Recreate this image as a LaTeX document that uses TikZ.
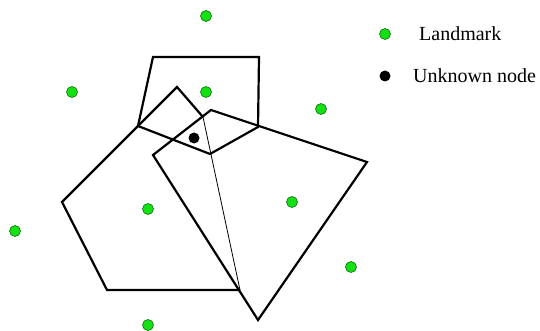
\documentclass[tikz,border=0pt]{standalone}
\usepackage{fontspec}
\setmainfont{Liberation Serif}
\definecolor{lmgreen}{RGB}{20,225,20}
\definecolor{lmedge}{RGB}{10,110,10}
\begin{document}
\begin{tikzpicture}[x=1pt, y=-1pt,
   landmark/.style={circle, fill=lmgreen, draw=lmedge, line width=0.6pt, inner sep=0pt, minimum size=11pt},
   unknown/.style={circle, fill=black, inner sep=0pt, minimum size=11pt},
   cell/.style={line width=2.2pt, line join=miter},
   legend/.style={font=\fontsize{20}{24}\selectfont, anchor=base west, inner sep=0pt}]
\useasboundingbox (0,0) rectangle (540,331);
% landmarks
\node[landmark] (l1) at (206,16)  {};
\node[landmark] (l2) at (72,92)   {};
\node[landmark] (l3) at (206,92)  {};
\node[landmark] (l4) at (321,109) {};
\node[landmark] (l5) at (148,209) {};
\node[landmark] (l6) at (292,202) {};
\node[landmark] (l7) at (15,231)  {};
\node[landmark] (l8) at (351,267) {};
\node[landmark] (l9) at (148,325) {};
% cells
\coordinate (a1) at (153,57);  \coordinate (a2) at (259,57);
\coordinate (a3) at (258,127); \coordinate (a4) at (210,154);
\coordinate (a5) at (138,126);
\draw[cell] (a1) -- (a2) -- (a3) -- (a4) -- (a5) -- cycle;
\coordinate (b1) at (177,87);  \coordinate (b2) at (203,117);
\coordinate (b3) at (240,290); \coordinate (b4) at (107,290);
\coordinate (b5) at (62,202);
\draw[cell] (b2) -- (b1) -- (b5) -- (b4) -- (b3);
\draw[line width=0.8pt] (b2) -- (b3);
\coordinate (c1) at (211,110); \coordinate (c2) at (367,162);
\coordinate (c3) at (258,320); \coordinate (c4) at (153,155);
\draw[cell] (c1) -- (c2) -- (c3) -- (c4) -- cycle;
% unknown node
\node[unknown] (u) at (194,138) {};
% legend
\node[landmark] (kl) at (385,34) {};
\node[unknown]  (ku) at (385,76) {};
\node[legend] (tl) at (419,41) {Landmark};
\node[legend] (tu) at (413,83) {Unknown node};
\end{tikzpicture}
\end{document}
